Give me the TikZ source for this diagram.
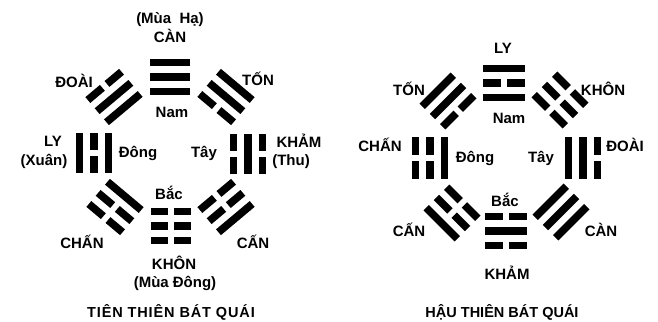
\documentclass[tikz,border=0pt]{standalone}
\usepackage{fontspec}
\setmainfont{Liberation Sans}
% one line of a trigram: #1 offset along the normal, #2 = 1 solid / 0 broken, #3 half length
\newcommand\trgline[3]{%
  \ifnum#2=1
    \fill (-#3pt,#1pt-3.8pt) rectangle (#3pt,#1pt+3.8pt);
  \else
    \fill (-#3pt,#1pt-3.8pt) rectangle (-3pt,#1pt+3.8pt);
    \fill (3pt,#1pt-3.8pt) rectangle (#3pt,#1pt+3.8pt);
  \fi}
% trigram: centre x, centre y, rotation, inner, middle, outer line, half length
\newcommand\trgram[7]{%
  \begin{scope}[shift={(#1,#2)},rotate=#3]
    \trgline{-14.5}{#4}{#7}
    \trgline{0}{#5}{#7}
    \trgline{14.5}{#6}{#7}
  \end{scope}}
\begin{document}
\begin{tikzpicture}[x=1pt,y=-1pt,
  lbl/.style={font=\bfseries\fontsize{15}{16}\selectfont,anchor=base,inner sep=0pt},
  ttl/.style={font=\bfseries\fontsize{14.5}{16}\selectfont,anchor=base,inner sep=0pt}]
\useasboundingbox (0,0) rectangle (658,321);
\fill[white] (0,0) rectangle (658,321);
% ---------- Tien thien ----------
\trgram{170}{77}{0}{1}{1}{1}{20}      % Can
\trgram{171}{226}{180}{0}{0}{0}{20}   % Khon
\trgram{94}{153}{90}{1}{0}{1}{20}     % Ly
\trgram{248}{154}{-90}{0}{1}{0}{20}   % Kham
\trgram{114}{97}{40}{1}{1}{0}{22}     % Doai
\trgram{226}{97}{-40}{0}{1}{1}{22}    % Ton
\trgram{115}{207}{140}{1}{0}{0}{22}   % Chan
\trgram{226}{207}{-140}{0}{0}{1}{22}  % Can (Gen)
\node[lbl] (lmuaha) at (170,24) {(Mùa~~Hạ)};
\node[lbl] (lcan) at (170,42) {CÀN};
\node[lbl] (ldoai) at (74,87) {ĐOÀI};
\node[lbl] (lton) at (258,85) {TỐN};
\node[lbl] (lnam) at (172,117) {Nam};
\node[lbl] (lly) at (53,146) {LY};
\node[lbl] (lxuan) at (44,165) {(Xuân)};
\node[lbl] (ldong) at (138,157) {Đông};
\node[lbl] (ltay) at (204,157) {Tây};
\node[lbl] (lkham) at (299,147) {KHẢM};
\node[lbl] (lthu) at (291,165) {(Thu)};
\node[lbl] (lbac) at (169,199) {Bắc};
\node[lbl] (lchan) at (82,248) {CHẤN};
\node[lbl] (lgen) at (253,248) {CẤN};
\node[lbl] (lkhon) at (174,269) {KHÔN};
\node[lbl] (lmuadong) at (175,287) {(Mùa Đông)};
\node[ttl,font=\bfseries\fontsize{14.5}{16}\selectfont\addfontfeatures{LetterSpace=6}] (ltitle) at (171,317) {TIÊN THIÊN BÁT QUÁI};
% ---------- Hau thien ----------
\trgram{504}{83}{0}{1}{0}{1}{21}      % Ly
\trgram{506}{231}{180}{0}{1}{0}{21}   % Kham
\trgram{430}{158}{90}{1}{0}{0}{21}    % Chan
\trgram{583}{158}{-90}{1}{1}{0}{21}   % Doai
\trgram{448}{101}{45}{0}{1}{1}{22}    % Ton
\trgram{560}{100}{-45}{0}{0}{0}{22}   % Khon
\trgram{452}{213}{135}{0}{0}{1}{22}   % Can (Gen)
\trgram{561}{212}{-135}{1}{1}{1}{22}  % Can
\node[lbl] (rly) at (503,54) {LY};
\node[lbl] (rton) at (409,95) {TỐN};
\node[lbl] (rkhon) at (603,95) {KHÔN};
\node[lbl] (rnam) at (509,123) {Nam};
\node[lbl] (rchan) at (380,151) {CHẤN};
\node[lbl] (rdong) at (475,162) {Đông};
\node[lbl] (rtay) at (541,162) {Tây};
\node[lbl] (rdoai) at (625,151) {ĐOÀI};
\node[lbl] (rbac) at (505,206) {Bắc};
\node[lbl] (rgen) at (409,236) {CẤN};
\node[lbl] (rcan) at (601,236) {CÀN};
\node[lbl] (rkham) at (507,279) {KHẢM};
\node[ttl] (rtitle) at (502,317) {HẬU THIÊN BÁT QUÁI};
\end{tikzpicture}
\end{document}
